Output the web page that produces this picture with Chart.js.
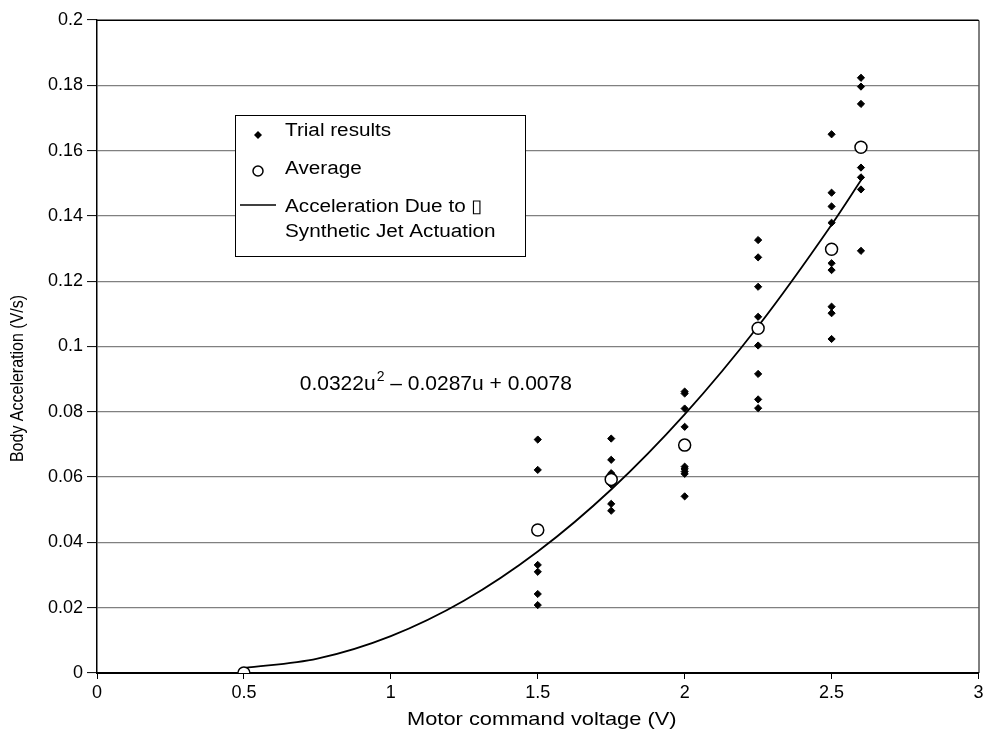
<!DOCTYPE html>
<html>
<head>
<meta charset="utf-8">
<title>Body acceleration vs motor command voltage</title>
<script src="https://cdn.jsdelivr.net/npm/chart.js@4.4.1/dist/chart.umd.min.js"></script>
<style>
    html, body { margin: 0; padding: 0; background: #ffffff; }
    #wrap { width: 986px; height: 742px; }
</style>
</head>
<body>
<div id="wrap"><canvas id="accelChart" width="986" height="742"></canvas></div>
<script>
"use strict";

// values
var trialVoltage = [
    1.5, 1.5, 1.5, 1.5, 1.5, 1.5,
    1.75, 1.75, 1.75, 1.75, 1.75, 1.75,
    2, 2, 2, 2, 2, 2, 2, 2, 2,
    2.25, 2.25, 2.25, 2.25, 2.25, 2.25, 2.25, 2.25,
    2.5, 2.5, 2.5, 2.5, 2.5, 2.5, 2.5, 2.5, 2.5,
    2.6, 2.6, 2.6, 2.6, 2.6, 2.6, 2.6
];
var trialAccel = [
    0.0715, 0.0622, 0.0331, 0.0310, 0.0242, 0.0208,
    0.0718, 0.0653, 0.0612, 0.0577, 0.0518, 0.0497,
    0.0862, 0.0856, 0.0810, 0.0754, 0.0632, 0.0625, 0.0617, 0.0610, 0.0541,
    0.1326, 0.1273, 0.1183, 0.1091, 0.1003, 0.0916, 0.0838, 0.0811,
    0.1650, 0.1471, 0.1429, 0.1379, 0.1255, 0.1234, 0.1122, 0.1102, 0.1023,
    0.1823, 0.1796, 0.1743, 0.1548, 0.1518, 0.1481, 0.1293
];
var avgVoltage = [0.5, 1.5, 1.75, 2, 2.25, 2.5, 2.6];
var avgAccel = [0, 0.0438, 0.0593, 0.0698, 0.1056, 0.1298, 0.1610];
// fitted curve, read at a few voltages along the drawn line
var fitVoltage = [0.5, 0.75, 1, 1.25, 1.5, 1.75, 2, 2.25, 2.5, 2.6];
var fitAccel = [0.0015, 0.0044, 0.0113, 0.0222, 0.0372, 0.0562, 0.0792, 0.1062, 0.1373, 0.1509];

var xTickLabels = ["0", "0.5", "1", "1.5", "2", "2.5", "3"];
var yTickLabels = ["0", "0.02", "0.04", "0.06", "0.08", "0.1", "0.12", "0.14", "0.16", "0.18", "0.2"];
var xTitle = "Motor command voltage (V)";
var yTitle = "Body Acceleration (V/s)";
var legendLabels = ["Trial results", "Average", "Acceleration Due to \u25AF", "Synthetic Jet Actuation"];
var fitEquation = ["0.0322u", "2", " \u2013 0.0287u + 0.0078"];

function toPoints(xs, ys) {
    var pts = [];
    for (var i = 0; i < xs.length; i++) {
        pts.push({ x: xs[i], y: ys[i] });
    }
    return pts;
}

document.addEventListener("DOMContentLoaded", function () {
    var FONT = "'Liberation Sans', Arial, sans-serif";

    // ------------------------------------------------------- //
    // frame, axis titles, legend box and fit equation
    // ------------------------------------------------------ //
    var extras = {
        id: "extras",
        beforeDraw: function (chart) {
            var ctx = chart.ctx;
            ctx.save();
            ctx.fillStyle = "#ffffff";
            ctx.fillRect(0, 0, chart.width, chart.height);
            ctx.restore();
        },
        afterDraw: function (chart) {
            var ctx = chart.ctx;
            var a = chart.chartArea;
            var xs = chart.scales.x;
            var ys = chart.scales.y;

            // top and right edges of the plot
            ctx.save();
            ctx.strokeStyle = "#000000";
            ctx.lineWidth = 1;
            ctx.beginPath();
            ctx.moveTo(a.left, a.top + 0.5);
            ctx.lineTo(a.right + 0.5, a.top + 0.5);
            ctx.lineTo(a.right + 0.5, a.bottom);
            ctx.stroke();
            ctx.restore();

            // axis titles (a bit wide, like the source)
            ctx.save();
            ctx.fillStyle = "#000000";
            ctx.textAlign = "center";
            ctx.textBaseline = "middle";
            ctx.font = "19px " + FONT;
            ctx.save();
            ctx.translate((a.left + a.right) / 2 + 4, 720);
            ctx.scale(1.15, 1);
            ctx.fillText(xTitle, 0, 0);
            ctx.restore();
            ctx.font = "16px " + FONT;
            ctx.save();
            ctx.translate(18, (a.top + a.bottom) / 2 + 32);
            ctx.rotate(-Math.PI / 2);
            ctx.scale(1, 1.2);
            ctx.fillText(yTitle, 0, 0);
            ctx.restore();
            ctx.restore();

            // equation
            ctx.save();
            ctx.fillStyle = "#000000";
            ctx.textBaseline = "alphabetic";
            var ex = xs.getPixelForValue(0.69);
            var ey = ys.getPixelForValue(0.089) + 8;
            ctx.font = "21px " + FONT;
            ctx.fillText(fitEquation[0], ex, ey);
            ex += ctx.measureText(fitEquation[0]).width + 1;
            ctx.font = "14px " + FONT;
            ctx.fillText(fitEquation[1], ex, ey - 9);
            ex += ctx.measureText(fitEquation[1]).width;
            ctx.font = "21px " + FONT;
            ctx.fillText(fitEquation[2], ex, ey);
            ctx.restore();

            // legend
            var lx = a.left + 138;
            var ly = a.top + 95;
            var lw = 290;
            var lh = 141;
            ctx.save();
            ctx.fillStyle = "#ffffff";
            ctx.fillRect(lx, ly, lw, lh);
            ctx.strokeStyle = "#000000";
            ctx.lineWidth = 1;
            ctx.strokeRect(lx + 0.5, ly + 0.5, lw, lh);

            var mx = lx + 23;
            // diamond
            ctx.fillStyle = "#000000";
            ctx.beginPath();
            ctx.moveTo(mx, ly + 16);
            ctx.lineTo(mx + 4, ly + 20);
            ctx.lineTo(mx, ly + 24);
            ctx.lineTo(mx - 4, ly + 20);
            ctx.closePath();
            ctx.fill();
            // circle
            ctx.beginPath();
            ctx.arc(mx, ly + 56, 5, 0, Math.PI * 2);
            ctx.fillStyle = "#ffffff";
            ctx.fill();
            ctx.lineWidth = 1.5;
            ctx.strokeStyle = "#000000";
            ctx.stroke();
            // line
            ctx.beginPath();
            ctx.lineWidth = 1.5;
            ctx.moveTo(lx + 5, ly + 90);
            ctx.lineTo(lx + 41, ly + 90);
            ctx.stroke();

            ctx.fillStyle = "#000000";
            ctx.font = "18px " + FONT;
            ctx.textBaseline = "middle";
            var rows = [ly + 16, ly + 54, ly + 92, ly + 117];
            for (var i = 0; i < legendLabels.length; i++) {
                ctx.save();
                ctx.translate(lx + 50, rows[i]);
                ctx.scale(1.15, 1);
                ctx.fillText(legendLabels[i], 0, 0);
                ctx.restore();
            }
            ctx.restore();
        }
    };

    // ------------------------------------------------------- //
    // Scatter chart
    // ------------------------------------------------------ //
    var CANVAS = document.getElementById("accelChart");
    var accelChart = new Chart(CANVAS, {
        type: "scatter",
        plugins: [extras],
        data: {
            datasets: [
                {
                    label: "Average",
                    data: toPoints(avgVoltage, avgAccel),
                    pointStyle: "circle",
                    pointRadius: 6,
                    pointBorderWidth: 1.5,
                    pointBackgroundColor: "#ffffff",
                    pointBorderColor: "#000000",
                    showLine: false
                },
                {
                    label: "Trial results",
                    data: toPoints(trialVoltage, trialAccel),
                    pointStyle: "rectRot",
                    pointRadius: 3.6,
                    pointBorderWidth: 1,
                    pointBackgroundColor: "#000000",
                    pointBorderColor: "#000000",
                    showLine: false
                },
                {
                    label: "Acceleration Due to Synthetic Jet Actuation",
                    data: toPoints(fitVoltage, fitAccel),
                    showLine: true,
                    borderColor: "#000000",
                    borderWidth: 1.8,
                    pointRadius: 0,
                    cubicInterpolationMode: "monotone",
                    fill: false
                }
            ]
        },
        options: {
            responsive: false,
            animation: false,
            devicePixelRatio: 1,
            layout: {
                padding: { top: 20, right: 6, left: 0, bottom: 0 }
            },
            plugins: {
                legend: { display: false },
                tooltip: { enabled: false }
            },
            scales: {
                x: {
                    type: "linear",
                    min: 0,
                    max: 3,
                    afterFit: function (scale) {
                        scale.height = 69;
                        scale.paddingRight = 0;
                        scale.paddingLeft = 0;
                    },
                    afterBuildTicks: function (scale) {
                        scale.ticks = xTickLabels.map(function (t) { return { value: parseFloat(t) }; });
                    },
                    ticks: {
                        color: "#000000",
                        padding: 3,
                        maxRotation: 0,
                        font: { family: FONT, size: 18 },
                        callback: function (value, index) { return xTickLabels[index]; }
                    },
                    grid: {
                        drawOnChartArea: false,
                        drawTicks: true,
                        tickLength: 6,
                        tickColor: "#000000",
                        tickWidth: 1
                    },
                    border: { display: true, color: "#000000", width: 2 },
                    title: { display: false }
                },
                y: {
                    type: "linear",
                    min: 0,
                    max: 0.2,
                    afterFit: function (scale) { scale.width = 97; },
                    afterBuildTicks: function (scale) {
                        scale.ticks = yTickLabels.map(function (t) { return { value: parseFloat(t) }; });
                    },
                    ticks: {
                        color: "#000000",
                        padding: 4,
                        font: { family: FONT, size: 18 },
                        callback: function (value, index) { return yTickLabels[index]; }
                    },
                    grid: {
                        color: "#808080",
                        lineWidth: 1.2,
                        drawTicks: true,
                        tickLength: 10,
                        tickColor: "#000000",
                        tickWidth: 1
                    },
                    border: { display: true, color: "#000000", width: 1.5 },
                    title: { display: false }
                }
            }
        }
    });
});
</script>
</body>
</html>
